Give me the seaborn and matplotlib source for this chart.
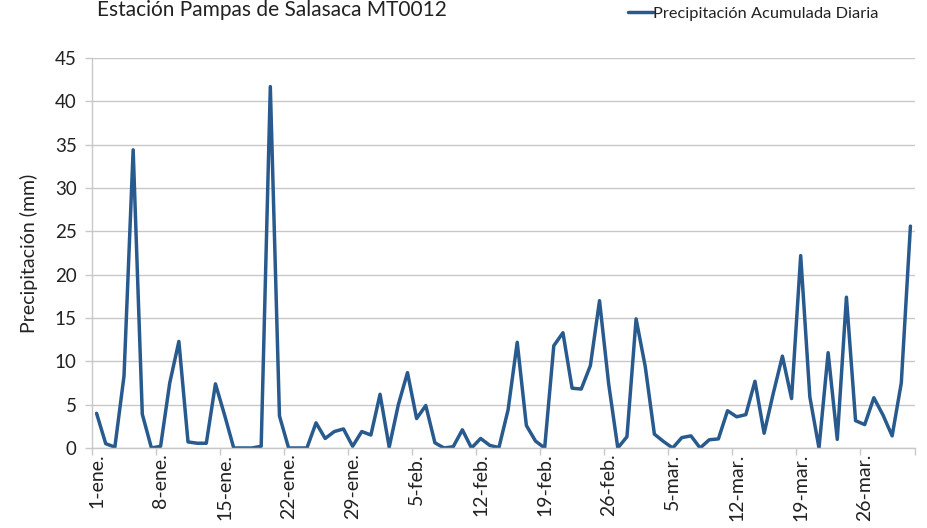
import matplotlib
matplotlib.use("Agg")
import matplotlib.pyplot as plt
from matplotlib.lines import Line2D
import seaborn as sns
import pandas as pd
import numpy as np

# Daily accumulated precipitation (mm), 1 Jan - 31 Mar
precip = [
    4.0, 0.5, 0.1, 8.3, 34.4, 3.9, 0.0, 0.2, 7.5, 12.3,
    0.7, 0.55, 0.55, 7.4, 3.8, 0.0, 0.0, 0.0, 0.2, 41.7,
    3.7, 0.0, 0.0, 0.0, 2.9, 1.1, 1.9, 2.2, 0.2, 1.9,
    1.5, 6.2, 0.1, 5.0, 8.7, 3.4, 4.9, 0.6, 0.0, 0.15,
    2.1, 0.0, 1.1, 0.3, 0.05, 4.4, 12.2, 2.6, 0.8, 0.0,
    11.8, 13.3, 6.9, 6.8, 9.5, 17.0, 7.4, 0.0, 1.3, 14.9,
    9.4, 1.6, 0.75, 0.0, 1.2, 1.4, 0.0, 0.95, 1.05, 4.3,
    3.6, 3.85, 7.7, 1.7, 6.3, 10.6, 5.7, 22.2, 5.9, 0.0,
    11.0, 1.0, 17.4, 3.15, 2.7, 5.8, 3.8, 1.4, 7.5, 25.6,
]
tick_labels = ["1-ene.", "8-ene.", "15-ene.", "22-ene.", "29-ene.", "5-feb.",
               "12-feb.", "19-feb.", "26-feb.", "5-mar.", "12-mar.", "19-mar.",
               "26-mar."]
title = "Estación Pampas de Salasaca MT0012"
series_name = "Precipitación Acumulada Diaria"
y_label = "Precipitación (mm)"

df = pd.DataFrame({"dia": np.arange(len(precip)), "mm": precip})

sns.set_theme(style="white")
plt.rcParams["font.family"] = ["Lato", "DejaVu Sans"]

line_color = "#285A8E"
grid_color = "#C8C8C8"
text_color = "#222222"

fig = plt.figure(figsize=(9.28, 5.28), dpi=100)
ax = fig.add_axes([92 / 928, 1 - 448 / 528, (915 - 92) / 928, (448 - 58) / 528])

sns.lineplot(data=df, x="dia", y="mm", ax=ax, color=line_color,
             linewidth=2.5, legend=False)

ax.set_xlim(-0.5, len(precip) - 0.5)
ax.set_ylim(0, 45)
ax.set_yticks(np.arange(0, 46, 5))
ax.yaxis.grid(True, color=grid_color, linewidth=1.0)
ax.xaxis.grid(False)
ax.set_axisbelow(True)

# tick marks between days, labels on the day itself
week_pos = np.arange(len(tick_labels)) * 7
ax.set_xticks(np.append(week_pos - 0.5, len(precip) - 0.5))
ax.set_xticklabels([])
ax.set_xticks(week_pos, minor=True)
ax.set_xticklabels(tick_labels, minor=True, rotation=90, fontsize=14,
                   color=text_color)
ax.tick_params(axis="x", which="major", length=5, width=1, color=grid_color,
               direction="out", bottom=True)
ax.tick_params(axis="x", which="minor", length=0, pad=4, bottom=True)
ax.tick_params(axis="y", length=5, width=1, color=grid_color, direction="out",
               left=True, labelsize=13.5, labelcolor=text_color, pad=6)

for side in ["top", "right"]:
    ax.spines[side].set_visible(False)
for side in ["left", "bottom"]:
    ax.spines[side].set_color(grid_color)
    ax.spines[side].set_linewidth(1.0)

ax.set_xlabel("")
ax.set_ylabel(y_label, fontsize=14, color=text_color, labelpad=12)

fig.text(97 / 928, 1 - 10 / 528, title, fontsize=15, color=text_color,
         ha="left", va="center")

handle = Line2D([], [], color=line_color, linewidth=2.5)
fig.legend([handle], [series_name], loc="center left",
           bbox_to_anchor=(628 / 928, 1 - 14 / 528), frameon=False,
           fontsize=11.8, handlelength=1.5, handletextpad=0.05,
           borderpad=0, borderaxespad=0, labelcolor=text_color)

fig.savefig("out.png", dpi=100)
